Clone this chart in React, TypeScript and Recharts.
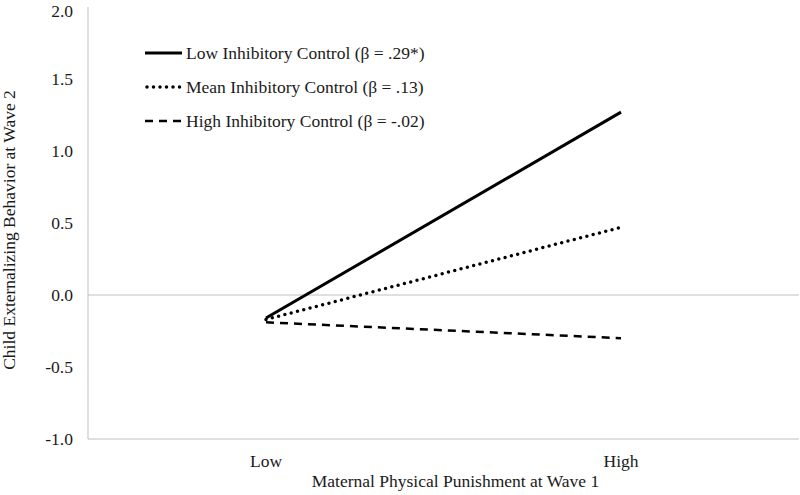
import React from 'react';
import { LineChart, Line, XAxis, YAxis, ReferenceLine, Label } from 'recharts';

const categories = ['Low', 'High'];
const lowControl = [-0.16, 1.27];
const meanControl = [-0.17, 0.47];
const highControl = [-0.19, -0.3];
const yTicks = [-1, -0.5, 0, 0.5, 1, 1.5, 2];

const seriesNames = [
  'Low Inhibitory Control (\u03B2 = .29*)',
  'Mean Inhibitory Control (\u03B2 = .13)',
  'High Inhibitory Control (\u03B2 = -.02)',
];

const data = categories.map((c, i) => ({
  cat: c,
  low: lowControl[i],
  mean: meanControl[i],
  high: highControl[i],
}));

const FONT = '"Liberation Serif", "Times New Roman", serif';
const FS = 17.5;
const AXIS = '#bfbfbf';
const TEXT = '#1a1a1a';

const lineStyles = [
  { key: 'low', width: 3, dash: undefined, cap: 'butt' },
  { key: 'mean', width: 3.5, dash: '0 6.5', cap: 'round' },
  { key: 'high', width: 2.5, dash: '8 6', cap: 'butt' },
];

// legend sits inside the plot area, top left
const LegendBox = () => (
  <svg width={320} height={110} style={{ position: 'absolute', left: 145, top: 40, overflow: 'visible' }}>
    {seriesNames.map((name, i) => {
      const y = 13 + i * 34;
      const s = lineStyles[i];
      return (
        <g key={name}>
          <line
            x1={i === 1 ? 2 : 0}
            x2={37}
            y1={y}
            y2={y}
            stroke="#000"
            strokeWidth={s.width}
            strokeDasharray={s.dash}
            strokeLinecap={s.cap as any}
          />
          <text x={41} y={y + 6} style={{ fontFamily: FONT, fontSize: FS }} fill={TEXT}>
            {name}
          </text>
        </g>
      );
    })}
  </svg>
);

const App: React.FC = () => (
  <div style={{ position: 'absolute', left: 0, top: 0, width: 800, height: 495, background: '#fff', fontFamily: FONT }}>
    <LineChart
      width={800}
      height={495}
      data={data}
      margin={{ top: 7, right: 1, bottom: 0, left: 0 }}
      style={{ fontFamily: FONT }}
    >
      <XAxis
        dataKey="cat"
        height={56}
        padding={{ left: 178, right: 178 }}
        stroke={AXIS}
        tickLine={false}
        tickSize={0}
        tickMargin={16}
        tick={{ fill: TEXT, fontSize: FS, style: { fontFamily: FONT } }}
      >
        <Label
          value="Maternal Physical Punishment at Wave 1"
          position="insideBottom"
          offset={8}
          dx={12}
          style={{ fill: TEXT, fontFamily: FONT, fontSize: FS }}
        />
      </XAxis>
      <YAxis
        yAxisId="l"
        width={88}
        domain={[-1, 2]}
        ticks={yTicks}
        stroke={AXIS}
        tickLine={false}
        tickSize={0}
        tickMargin={15}
        tickFormatter={(v: number) => v.toFixed(1)}
        tick={{ fill: TEXT, fontSize: FS, style: { fontFamily: FONT } }}
      >
        <Label
          content={() => (
            <text
              x={15}
              y={230}
              transform="rotate(-90 15 230)"
              textAnchor="middle"
              style={{ fontFamily: FONT, fontSize: FS }}
              fill={TEXT}
            >
              Child Externalizing Behavior at Wave 2
            </text>
          )}
        />
      </YAxis>
      <YAxis yAxisId="r" orientation="right" width={0} domain={[-1, 2]} tick={false} tickLine={false} stroke={AXIS} />
      <ReferenceLine yAxisId="l" y={0} stroke={AXIS} strokeWidth={1} />
      {lineStyles.map((s) => (
        <Line
          key={s.key}
          yAxisId="l"
          type="linear"
          dataKey={s.key}
          stroke="#000"
          strokeWidth={s.width}
          strokeDasharray={s.dash}
          strokeLinecap={s.cap as any}
          dot={false}
          activeDot={false}
          isAnimationActive={false}
        />
      ))}
    </LineChart>
    <LegendBox />
  </div>
);

export default App;
